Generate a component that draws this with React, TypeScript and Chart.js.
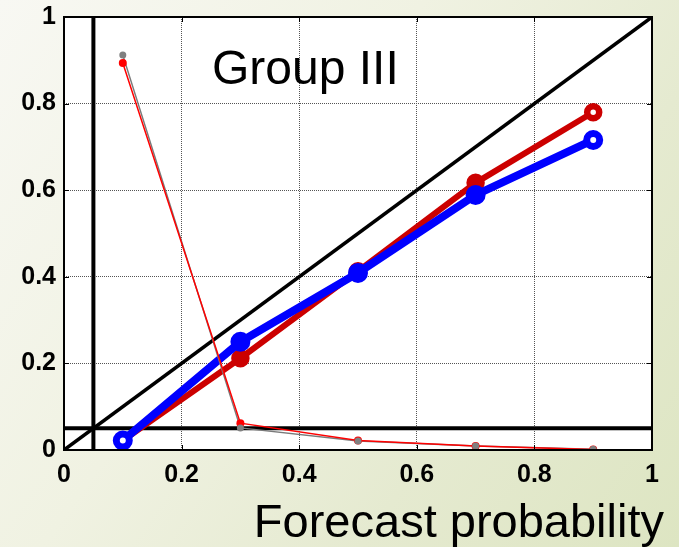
import { useEffect, useRef } from 'react';
import { Chart, registerables } from 'chart.js';

Chart.register(...registerables);

const forecastProb = [0.1, 0.3, 0.5, 0.7, 0.9];
const obsFreqRed = [0.022, 0.212, 0.413, 0.617, 0.78];
const obsFreqBlue = [0.022, 0.25, 0.409, 0.589, 0.716];
const sharpnessRed = [0.894, 0.062, 0.022, 0.009, 0.001];
const sharpnessGray = [0.912, 0.051, 0.021, 0.009, 0.002];
const climatology = 0.05;
const diagonal = [0, 1];
const tickValues = [0, 0.2, 0.4, 0.6, 0.8, 1];
const tickLabels = ['0', '0.2', '0.4', '0.6', '0.8', '1'];
const panelTitle = 'Group III';
const xAxisTitle = 'Forecast probability';

const FONT = '"Liberation Sans", Arial, Helvetica, sans-serif';

const pts = (xs: number[], ys: number[]) => xs.map((x, i) => ({ x, y: ys[i] }));

const decorPlugin = {
  id: 'decor',
  beforeDraw(chart: any) {
    const { ctx, chartArea: a } = chart;
    ctx.save();
    ctx.fillStyle = '#ffffff';
    ctx.fillRect(a.left, a.top, a.right - a.left, a.bottom - a.top);
    ctx.restore();
  },
  afterDraw(chart: any) {
    const { ctx, chartArea: a, scales } = chart;
    ctx.save();
    ctx.strokeStyle = '#000';
    ctx.lineWidth = 1;
    const tl = 5;
    tickValues.forEach((v) => {
      const x = Math.round(scales.x.getPixelForValue(v)) + 0.5;
      const y = Math.round(scales.y.getPixelForValue(v)) + 0.5;
      ctx.beginPath();
      ctx.moveTo(x, a.bottom); ctx.lineTo(x, a.bottom - tl);
      ctx.moveTo(x, a.top); ctx.lineTo(x, a.top + tl);
      ctx.moveTo(a.left, y); ctx.lineTo(a.left + tl, y);
      ctx.moveTo(a.right, y); ctx.lineTo(a.right - tl, y);
      ctx.stroke();
    });
    ctx.lineWidth = 2;
    ctx.strokeRect(a.left, a.top, a.right - a.left, a.bottom - a.top);
    ctx.fillStyle = '#000';
    ctx.textBaseline = 'alphabetic';
    ctx.textAlign = 'left';
    ctx.font = `48px ${FONT}`;
    ctx.fillText(panelTitle, 212, 84);
    ctx.textAlign = 'right';
    ctx.font = `47px ${FONT}`;
    ctx.fillText(xAxisTitle, 664, 537);
    ctx.restore();
  },
};

export default function App() {
  const ref = useRef<HTMLCanvasElement | null>(null);

  useEffect(() => {
    if (!ref.current) return;
    const endFill = (color: string) =>
      forecastProb.map((_, i) => (i === 0 || i === forecastProb.length - 1 ? '#ffffff' : color));
    const gridColor = (c: any) =>
      c.tick && (c.tick.value === 0 || c.tick.value === 1) ? 'rgba(0,0,0,0)' : '#555';

    const chart = new Chart(ref.current, {
      type: 'scatter',
      data: {
        datasets: [
          {
            label: 'diagonal',
            data: pts(diagonal, diagonal),
            showLine: true,
            borderColor: '#000',
            borderWidth: 3.5,
            pointRadius: 0,
            order: 10,
          },
          {
            label: 'clim-v',
            data: pts([climatology, climatology], [0, 1]),
            showLine: true,
            borderColor: '#000',
            borderWidth: 4,
            pointRadius: 0,
            order: 10,
          },
          {
            label: 'clim-h',
            data: pts([0, 1], [climatology, climatology]),
            showLine: true,
            borderColor: '#000',
            borderWidth: 4,
            pointRadius: 0,
            order: 10,
          },
          {
            label: 'red',
            data: pts(forecastProb, obsFreqRed),
            showLine: true,
            borderColor: '#cc0000',
            borderWidth: 6,
            pointRadius: 6,
            pointBorderWidth: 6.5,
            pointBorderColor: '#cc0000',
            pointBackgroundColor: endFill('#cc0000'),
            order: 6,
          },
          {
            label: 'blue',
            data: pts(forecastProb, obsFreqBlue),
            showLine: true,
            borderColor: '#0000ff',
            borderWidth: 8,
            pointRadius: 6.5,
            pointBorderWidth: 7,
            pointBorderColor: '#0000ff',
            pointBackgroundColor: endFill('#0000ff'),
            order: 5,
          },
          {
            label: 'gray-thin',
            data: pts(forecastProb, sharpnessGray),
            showLine: true,
            borderColor: '#7a7a7a',
            borderWidth: 1.5,
            pointRadius: 0,
            order: 4,
          },
          {
            label: 'red-thin',
            data: pts(forecastProb, sharpnessRed),
            showLine: true,
            borderColor: '#ff0000',
            borderWidth: 1.5,
            pointRadius: 4,
            pointBorderWidth: 0,
            pointBackgroundColor: '#ff0000',
            order: 3,
          },
          {
            label: 'gray-dots',
            data: pts(forecastProb, sharpnessGray),
            showLine: false,
            pointRadius: 3.5,
            pointBorderWidth: 0,
            pointBackgroundColor: '#808080',
            order: 2,
          },
        ],
      },
      options: {
        animation: false,
        responsive: false,
        layout: { padding: { top: 17, right: 27, left: 0, bottom: 0 } },
        plugins: { legend: { display: false }, tooltip: { enabled: false } },
        scales: {
          x: {
            type: 'linear',
            min: 0,
            max: 1,
            afterBuildTicks: (s: any) => {
              s.ticks = tickValues.map((v) => ({ value: v }));
            },
            afterFit: (s: any) => {
              s.height = 97;
            },
            grid: { drawTicks: false, color: gridColor, lineWidth: 1 },
            border: { display: false, dash: [1, 1] },
            ticks: {
              autoSkip: false,
              maxRotation: 0,
              padding: 10,
              color: '#000',
              font: { family: FONT, size: 25, weight: 'bold' },
              callback: (_v: any, i: number) => tickLabels[i],
            },
          },
          y: {
            type: 'linear',
            min: 0,
            max: 1,
            afterBuildTicks: (s: any) => {
              s.ticks = tickValues.map((v) => ({ value: v }));
            },
            afterFit: (s: any) => {
              s.width = 64;
              s.paddingTop = 0;
              s.paddingBottom = 0;
            },
            grid: { drawTicks: false, color: gridColor, lineWidth: 1 },
            border: { display: false, dash: [1, 1] },
            ticks: {
              autoSkip: false,
              padding: 8,
              color: '#000',
              font: { family: FONT, size: 25, weight: 'bold' },
              callback: (_v: any, i: number) => tickLabels[i],
            },
          },
        },
      },
      plugins: [decorPlugin],
    } as any);

    return () => chart.destroy();
  }, []);

  return (
    <div
      style={{
        position: 'fixed',
        left: 0,
        top: 0,
        width: 679,
        height: 547,
        background: 'linear-gradient(125deg, #f8f8f3 0%, #f0f2e2 40%, #e5ead0 70%, #dde5c2 100%)',
      }}
    >
      <canvas ref={ref} width={679} height={547} style={{ display: 'block' }} />
    </div>
  );
}
